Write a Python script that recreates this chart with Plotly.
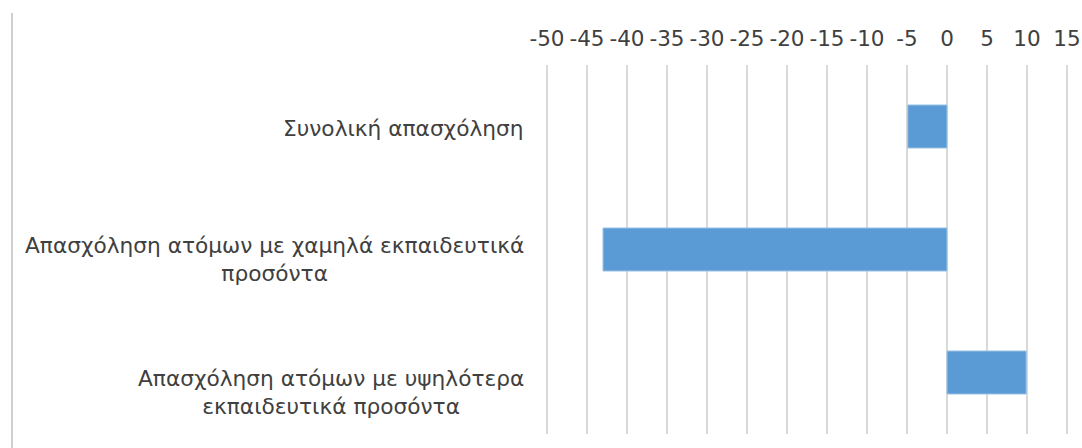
import plotly.graph_objects as go

categories = [
    "Συνολική απασχόληση",
    "Απασχόληση ατόμων με χαμηλά εκπαιδευτικά<br>προσόντα",
    "Απασχόληση ατόμων με υψηλότερα<br>εκπαιδευτικά προσόντα",
]
values = [-4.9, -43.0, 9.9]
tick_vals = list(range(-50, 20, 5))
tick_text = [str(v) for v in tick_vals]

W, H = 1082, 448
ml, mr, mt, mb = 543, 11, 65, 14
pw, ph = W - ml - mr, H - mt - mb

font_family = "DejaVu Sans"
text_color = "#404040"

fig = go.Figure()
fig.add_trace(go.Bar(
    x=values,
    y=list(range(len(categories))),
    orientation="h",
    marker=dict(color="#5b9bd5", line=dict(color="#9dc3e6", width=1)),
    width=0.35,
    showlegend=False,
))

annotations = []
yshifts = [-2, -10, -20]
for i, (c, ys) in enumerate(zip(categories, yshifts)):
    annotations.append(dict(
        text=c, x=0, xref="paper", y=i, yref="y",
        xanchor="right", yanchor="middle", align="center",
        xshift=-17, yshift=ys, showarrow=False,
        font=dict(family=font_family, size=21.7, color=text_color),
    ))

fig.update_layout(
    width=W, height=H,
    margin=dict(l=ml, r=mr, t=mt, b=mb),
    paper_bgcolor="white", plot_bgcolor="white",
    font=dict(family=font_family, size=22, color=text_color),
    annotations=annotations,
    shapes=[dict(
        type="line", xref="paper", yref="paper",
        x0=(12 - ml) / pw, x1=(12 - ml) / pw,
        y0=(H - mb - 13) / ph, y1=(H - mb - 448) / ph,
        line=dict(color="#bfbfbf", width=1.5),
    )],
    xaxis=dict(
        side="top", range=[-50.5, 15.5], tickvals=tick_vals, ticktext=tick_text,
        showgrid=True, gridcolor="#d9d9d9", gridwidth=2,
        zeroline=False, showline=False, ticks="", automargin=False,
        ticklabelstandoff=14,
        tickfont=dict(family=font_family, size=21.5, color=text_color),
    ),
    yaxis=dict(
        range=[2.5, -0.5], showticklabels=False, showgrid=False,
        zeroline=False, showline=False, ticks="", automargin=False,
    ),
)

fig.write_html(
    "out.html",
    config={"responsive": False, "displayModeBar": False},
    post_script="document.body.style.margin='0';document.body.style.overflow='hidden';",
)
